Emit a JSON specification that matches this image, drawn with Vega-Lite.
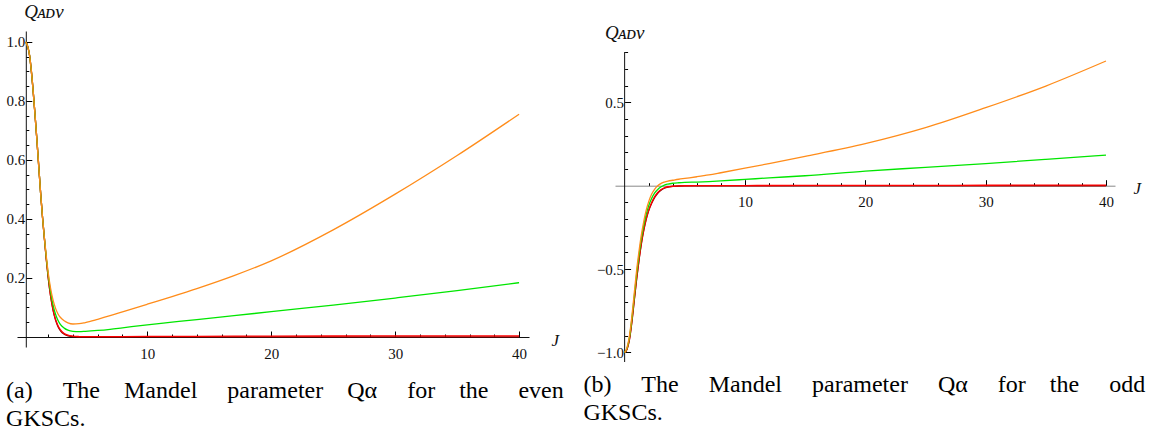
{
  "$schema": "https://vega.github.io/schema/vega-lite/v6.json",
  "background": "white",
  "padding": {"left": 6, "top": 2, "right": 0, "bottom": 0},
  "spacing": 19,
  "datasets": {
    "even": [
      {"J":0.2,"o":1.0,"g":1.0,"r":1.0,"d":1.0},
      {"J":0.35,"o":0.985,"g":0.985,"r":0.985,"d":0.985},
      {"J":0.5,"o":0.955,"g":0.955,"r":0.955,"d":0.955},
      {"J":0.65,"o":0.9,"g":0.9,"r":0.9,"d":0.9},
      {"J":0.8,"o":0.83,"g":0.83,"r":0.83,"d":0.83},
      {"J":0.95,"o":0.75,"g":0.75,"r":0.75,"d":0.75},
      {"J":1.1,"o":0.665,"g":0.665,"r":0.665,"d":0.665},
      {"J":1.25,"o":0.575,"g":0.575,"r":0.575,"d":0.575},
      {"J":1.4,"o":0.485,"g":0.485,"r":0.485,"d":0.485},
      {"J":1.55,"o":0.405,"g":0.405,"r":0.405,"d":0.405},
      {"J":1.7,"o":0.335,"g":0.335,"r":0.334,"d":0.334},
      {"J":1.85,"o":0.275,"g":0.27,"r":0.265,"d":0.264},
      {"J":2.0,"o":0.22,"g":0.213,"r":0.205,"d":0.203},
      {"J":2.2,"o":0.165,"g":0.152,"r":0.14,"d":0.138},
      {"J":2.4,"o":0.125,"g":0.108,"r":0.093,"d":0.09},
      {"J":2.6,"o":0.097,"g":0.077,"r":0.06,"d":0.057},
      {"J":2.8,"o":0.078,"g":0.056,"r":0.038,"d":0.035},
      {"J":3.0,"o":0.066,"g":0.042,"r":0.024,"d":0.021},
      {"J":3.3,"o":0.055,"g":0.03,"r":0.012,"d":0.009},
      {"J":3.6,"o":0.048,"g":0.023,"r":0.006,"d":0.004},
      {"J":4.0,"o":0.044,"g":0.019,"r":0.003,"d":0.001},
      {"J":4.5,"o":0.045,"g":0.018,"r":0.0015,"d":0.0003},
      {"J":5,"o":0.049,"g":0.019,"r":0.001,"d":0},
      {"J":6,"o":0.06,"g":0.022,"r":0.001,"d":0},
      {"J":7,"o":0.072,"g":0.026,"r":0.0012,"d":0},
      {"J":8,"o":0.085,"g":0.031,"r":0.0014,"d":0},
      {"J":10,"o":0.111,"g":0.041,"r":0.0017,"d":0},
      {"J":12,"o":0.137,"g":0.05,"r":0.002,"d":0},
      {"J":14,"o":0.164,"g":0.059,"r":0.0022,"d":0},
      {"J":17,"o":0.208,"g":0.072,"r":0.0026,"d":0},
      {"J":20,"o":0.258,"g":0.086,"r":0.003,"d":0},
      {"J":25,"o":0.363,"g":0.108,"r":0.0033,"d":0},
      {"J":30,"o":0.484,"g":0.132,"r":0.0036,"d":0},
      {"J":35,"o":0.615,"g":0.157,"r":0.0038,"d":0},
      {"J":40,"o":0.755,"g":0.184,"r":0.004,"d":0}
    ],
    "odd": [
      {"J":0,"o":-1.0,"g":-1.0,"r":-1.0,"d":-1.0},
      {"J":0.2,"o":-0.97,"g":-0.975,"r":-0.98,"d":-0.98},
      {"J":0.4,"o":-0.9,"g":-0.91,"r":-0.92,"d":-0.925},
      {"J":0.6,"o":-0.785,"g":-0.8,"r":-0.815,"d":-0.82},
      {"J":0.8,"o":-0.645,"g":-0.665,"r":-0.685,"d":-0.69},
      {"J":1.0,"o":-0.505,"g":-0.53,"r":-0.555,"d":-0.56},
      {"J":1.2,"o":-0.39,"g":-0.415,"r":-0.44,"d":-0.445},
      {"J":1.4,"o":-0.29,"g":-0.315,"r":-0.34,"d":-0.345},
      {"J":1.6,"o":-0.21,"g":-0.235,"r":-0.26,"d":-0.265},
      {"J":1.8,"o":-0.145,"g":-0.17,"r":-0.195,"d":-0.2},
      {"J":2.0,"o":-0.095,"g":-0.12,"r":-0.145,"d":-0.15},
      {"J":2.25,"o":-0.05,"g":-0.075,"r":-0.1,"d":-0.105},
      {"J":2.5,"o":-0.02,"g":-0.043,"r":-0.065,"d":-0.07},
      {"J":2.75,"o":0.0,"g":-0.022,"r":-0.04,"d":-0.045},
      {"J":3.0,"o":0.013,"g":-0.008,"r":-0.024,"d":-0.028},
      {"J":3.3,"o":0.022,"g":0.004,"r":-0.012,"d":-0.015},
      {"J":3.6,"o":0.028,"g":0.01,"r":-0.006,"d":-0.008},
      {"J":4.0,"o":0.033,"g":0.015,"r":-0.003,"d":-0.004},
      {"J":4.5,"o":0.039,"g":0.018,"r":-0.001,"d":-0.0015},
      {"J":5,"o":0.044,"g":0.02,"r":0,"d":-0.0005},
      {"J":6,"o":0.054,"g":0.022,"r":0.0005,"d":0},
      {"J":7,"o":0.065,"g":0.025,"r":0.0007,"d":0},
      {"J":8,"o":0.078,"g":0.029,"r":0.0009,"d":0},
      {"J":10,"o":0.105,"g":0.038,"r":0.0012,"d":0},
      {"J":12,"o":0.133,"g":0.047,"r":0.0015,"d":0},
      {"J":15,"o":0.176,"g":0.06,"r":0.0018,"d":0},
      {"J":20,"o":0.252,"g":0.088,"r":0.0022,"d":0},
      {"J":25,"o":0.348,"g":0.11,"r":0.0026,"d":0},
      {"J":30,"o":0.468,"g":0.133,"r":0.003,"d":0},
      {"J":35,"o":0.598,"g":0.158,"r":0.0033,"d":0},
      {"J":40,"o":0.748,"g":0.184,"r":0.0035,"d":0}
    ]
  },
  "config": {
    "view": {"stroke": null},
    "axis": {
      "grid": false,
      "labelFont": "Liberation Serif, Times New Roman, Times, serif",
      "labelFontSize": 15,
      "labelColor": "#111",
      "labelOverlap": false,
      "labelBound": false,
      "labelFlush": false,
      "domainColor": "#111",
      "tickColor": "#000",
      "domainWidth": 1,
      "tickWidth": 1,
      "titleFont": "Liberation Serif, Times New Roman, Times, serif",
      "titleFontWeight": "normal",
      "titleFontStyle": "italic",
      "titleColor": "#111",
      "titleFontSize": 17,
      "titleAngle": 0,
      "titleAlign": "left",
      "titleBaseline": "middle"
    },
    "title": {
      "font": "Liberation Serif, Times New Roman, Times, serif",
      "fontSize": 24,
      "fontWeight": "normal",
      "color": "#000",
      "lineHeight": 28,
      "orient": "bottom",
      "anchor": "start",
      "frame": "bounds",
      "offset": 15
    }
  },
  "hconcat": [
    {
      "width": 512,
      "height": 316,
      "data": {"name": "even"},
      "title": {"text": ["(a)\u00a0\u00a0\u00a0\u00a0\u00a0The\u00a0\u00a0\u00a0\u00a0Mandel\u00a0\u00a0\u00a0\u00a0\u00a0parameter\u00a0\u00a0\u00a0\u00a0Qα\u00a0\u00a0\u00a0\u00a0\u00a0for\u00a0\u00a0\u00a0\u00a0the\u00a0\u00a0\u00a0\u00a0\u00a0even", "GKSCs."]},
      "transform": [{"fold": ["d", "r", "g", "o"], "as": ["s", "Q"]}],
      "mark": {"type": "line", "strokeWidth": 1.3, "interpolate": "monotone"},
      "encoding": {
        "x": {
          "field": "J", "type": "quantitative",
          "scale": {"domain": [-0.51, 40.8], "nice": false, "zero": false},
          "axis": {
            "orient": "bottom",
            "offset": -10,
            "values": [2,4,6,8,10,12,14,16,18,20,22,24,26,28,30,32,34,36,38,40],
            "labelExpr": "datum.value % 10 == 0 ? datum.label : ''",
            "tickSize": {"condition": {"test": "datum.value % 10 == 0", "value": -6}, "value": -3},
            "labelPadding": 15,
            "title": "J",
            "titleX": 534,
            "titleY": 3
          }
        },
        "y": {
          "field": "Q", "type": "quantitative",
          "scale": {"domain": [-0.034, 1.037], "nice": false, "zero": false},
          "axis": {
            "orient": "left",
            "offset": -8.8,
            "values": [0.05,0.1,0.15,0.2,0.25,0.3,0.35,0.4,0.45,0.5,0.55,0.6,0.65,0.7,0.75,0.8,0.85,0.9,0.95,1.0],
            "labelExpr": "abs(datum.value*5 - round(datum.value*5)) < 0.001 ? format(datum.value, '.1f') : ''",
            "tickSize": {"condition": {"test": "abs(datum.value*5 - round(datum.value*5)) < 0.001", "value": -6}, "value": -3},
            "labelPadding": 7,
            "title": "Qᴀᴅᴠ",
            "titleFontSize": 19,
            "titleX": -2,
            "titleY": -20
          }
        },
        "color": {
          "field": "s", "type": "nominal", "legend": null,
          "scale": {"domain": ["d", "r", "g", "o"], "range": ["#8B0000", "#FF0000", "#00E600", "#FF8C1A"]}
        }
      }
    },
    {
      "width": 500,
      "height": 331,
      "title": {"text": ["(b)\u00a0\u00a0\u00a0\u00a0\u00a0The\u00a0\u00a0\u00a0\u00a0\u00a0Mandel\u00a0\u00a0\u00a0\u00a0\u00a0parameter\u00a0\u00a0\u00a0\u00a0\u00a0Qα\u00a0\u00a0\u00a0\u00a0\u00a0for\u00a0\u00a0\u00a0\u00a0the\u00a0\u00a0\u00a0\u00a0\u00a0odd", "GKSCs."], "offset": 10, "dx": -13},
      "resolve": {"axis": {"x": "independent", "y": "independent"}},
      "layer": [
        {
          "data": {"values": [{}]},
          "mark": {"type": "rule", "color": "#111", "strokeWidth": 1},
          "encoding": {
            "x": {"datum": 0, "type": "quantitative", "axis": null},
            "y": {"datum": -1.057, "type": "quantitative", "axis": null},
            "y2": {"datum": 0.802}
          }
        },
        {
          "data": {"name": "odd"},
          "transform": [{"fold": ["d", "r", "g", "o"], "as": ["s", "Q"]}],
          "mark": {"type": "line", "strokeWidth": 1.3, "interpolate": "monotone"},
          "encoding": {
            "x": {
              "field": "J", "type": "quantitative",
              "scale": {"domain": [-0.8, 40.75], "nice": false, "zero": false},
              "axis": {
                "orient": "bottom",
                "offset": -176.3,
                "domainColor": "#888",
                "values": [2,4,6,8,10,12,14,16,18,20,22,24,26,28,30,32,34,36,38,40],
                "labelExpr": "datum.value % 10 == 0 ? datum.label : ''",
                "tickSize": {"condition": {"test": "datum.value % 10 == 0", "value": -6}, "value": -3},
                "labelPadding": 15,
                "title": "J",
                "titleX": 518,
                "titleY": 3
              }
            },
            "y": {
              "field": "Q", "type": "quantitative",
              "scale": {"domain": [-1.057, 0.928], "nice": false, "zero": false},
              "axis": {
                "orient": "left",
                "offset": -9.6,
                "domain": false,
                "values": [-1.0,-0.9,-0.8,-0.7,-0.6,-0.5,-0.4,-0.3,-0.2,-0.1,0.1,0.2,0.3,0.4,0.5,0.6,0.7,0.8],
                "labelExpr": "abs(datum.value*2 - round(datum.value*2)) < 0.001 ? format(datum.value, '.1f') : ''",
                "tickSize": {"condition": {"test": "abs(datum.value*2 - round(datum.value*2)) < 0.001", "value": -6}, "value": -3},
                "labelPadding": 7,
                "title": "Qᴀᴅᴠ",
                "titleFontSize": 19,
                "titleX": -20,
                "titleY": 1
              }
            },
            "color": {
              "field": "s", "type": "nominal", "legend": null,
              "scale": {"domain": ["d", "r", "g", "o"], "range": ["#8B0000", "#FF0000", "#00E600", "#FF8C1A"]}
            }
          }
        }
      ]
    }
  ]
}
